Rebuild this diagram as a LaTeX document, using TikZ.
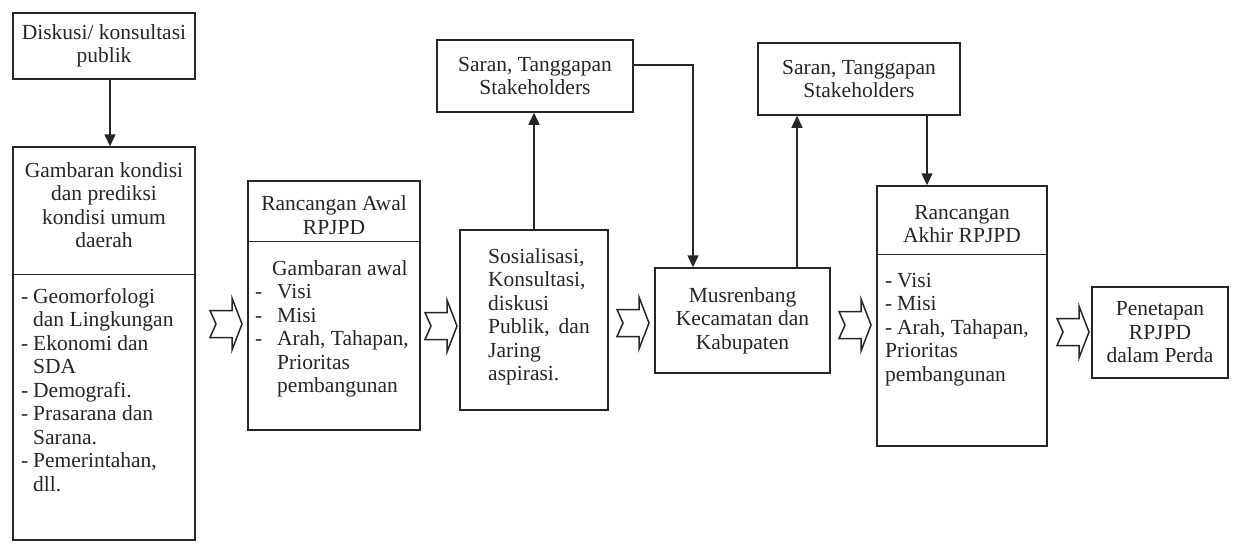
\documentclass[tikz,border=0pt]{standalone}
\usepackage{fontspec}
\setmainfont{Liberation Serif}
\usetikzlibrary{arrows.meta,calc}
\newcommand\dashitem{\makebox[12pt][l]{-}}
\newcommand\contline{\hspace*{12pt}}
\begin{document}
\begin{tikzpicture}[x=1pt,y=-1pt,
  every node/.style={font=\fontsize{21.5}{23.5}\selectfont, text=black!85},
  box/.style={draw=black!85, line width=1.5pt, inner sep=0pt, rectangle, align=center},
  txt/.style={inner sep=0pt, align=center},
  ltxt/.style={inner sep=0pt, align=left, anchor=north west},
  ln/.style={draw=black!85, line width=1.5pt},
  arr/.style={draw=black!85, line width=1.5pt, -{Triangle[width=11pt,length=12pt]}},
  chevline/.style={draw=black!85, line width=1.5pt, line join=miter},
  chev/.pic={\draw[chevline] (0,-13.5) -- (22,-13.5) -- (22,-26) -- (32,0) -- (22,26) -- (22,13.5) -- (0,13.5) -- (6,0) -- cycle;}
]
\useasboundingbox[fill=white] (0,0) rectangle (1233,547);

% boxes
\node[box, minimum width=182pt, minimum height=66pt] (b1) at (104,46) {Diskusi/ konsultasi\\publik};
\node[box, minimum width=182pt, minimum height=393pt] (b2) at (104,343.5) {};
\node[box, minimum width=172pt, minimum height=249pt] (b3) at (334,305.5) {};
\node[box, minimum width=148pt, minimum height=180pt] (b4) at (534,320) {};
\node[box, minimum width=196pt, minimum height=72pt] (s1) at (535,76) {Saran, Tanggapan\\Stakeholders};
\node[box, minimum width=175pt, minimum height=105pt] (b5) at (742.5,320.5) {Musrenbang\\Kecamatan dan\\Kabupaten};
\node[box, minimum width=202pt, minimum height=72pt] (s2) at (859,79) {Saran, Tanggapan\\Stakeholders};
\node[box, minimum width=170pt, minimum height=260pt] (b6) at (962,316) {};
\node[box, minimum width=136pt, minimum height=91pt] (p) at (1160,332.5) {Penetapan\\RPJPD\\dalam Perda};

% dividers
\draw[ln] ($(b2.north west)+(0,128)$) -- ($(b2.north east)+(0,128)$);
\draw[ln] ($(b3.north west)+(0,61)$) -- ($(b3.north east)+(0,61)$);
\draw[ln] ($(b6.north west)+(0,69)$) -- ($(b6.north east)+(0,69)$);

% texts inside compound boxes
\node[txt] (b2t) at (104,205) {Gambaran kondisi\\dan prediksi\\kondisi umum\\daerah};
\node[ltxt] (b2l) at (21,288) {\dashitem Geomorfologi\\\contline dan Lingkungan\\\dashitem Ekonomi dan\\\contline SDA\\\dashitem Demografi.\\\dashitem Prasarana dan\\\contline Sarana.\\\dashitem Pemerintahan,\\\contline dll.};
\node[txt] (b3t) at (334,215) {Rancangan Awal\\RPJPD};
\node[ltxt] (b3l) at (255,260) {\hspace*{17pt}Gambaran awal\\\makebox[22pt][l]{-}Visi\\\makebox[22pt][l]{-}Misi\\\makebox[22pt][l]{-}Arah, Tahapan,\\\hspace*{22pt}Prioritas\\\hspace*{22pt}pembangunan};
\node[ltxt] (b4l) at (488,248) {Sosialisasi,\\Konsultasi,\\diskusi\\Publik,\hspace{9pt}dan\\Jaring\\aspirasi.};
\node[txt] (b6t) at (962,224) {Rancangan\\Akhir RPJPD};
\node[ltxt] (b6l) at (885,273) {\makebox[12pt][l]{-}Visi\\\makebox[12pt][l]{-}Misi\\\makebox[12pt][l]{-}Arah, Tahapan,\\Prioritas\\pembangunan};

% connectors
\draw[arr] ($(b1.south)+(6,0)$) -- ($(b2.north)+(6,0)$);
\draw[arr] (b4.north) -- (b4.north |- s1.south);
\coordinate (k1) at (693,65);
\draw[arr] (s1.east |- k1) -- (k1) -- (k1 |- b5.north);
\coordinate (k2) at (797,0);
\draw[arr] (k2 |- b5.north) -- (k2 |- s2.south);
\coordinate (k3) at (927,0);
\draw[arr] (k3 |- s2.south) -- (k3 |- b6.north);

% block arrows
\pic at (210,324) {chev};
\pic at (425,326) {chev};
\pic at (617,323) {chev};
\pic at (839,325) {chev};
\pic at (1057,332) {chev};
\end{tikzpicture}
\end{document}
